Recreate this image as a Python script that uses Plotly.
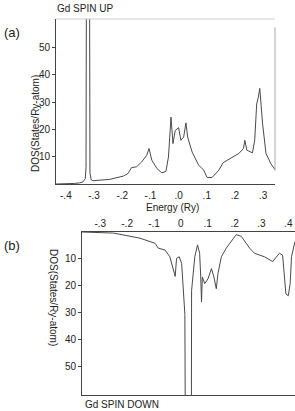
import plotly.graph_objects as go

# Spin-up DOS (top panel)
up_energy = [-0.435, -0.399, -0.37, -0.352, -0.339, -0.331, -0.3285, -0.327, -0.316, -0.3145,
             -0.31, -0.304, -0.274, -0.244, -0.196, -0.179, -0.167, -0.149, -0.131, -0.113,
             -0.105, -0.095, -0.077, -0.06, -0.045, -0.036, -0.027, -0.02, -0.012, 0.0,
             0.008, 0.018, 0.026, 0.032, 0.048, 0.071, 0.089, 0.101, 0.119, 0.143,
             0.158, 0.185, 0.214, 0.23, 0.235, 0.242, 0.262, 0.27, 0.277, 0.283,
             0.288, 0.298, 0.31, 0.327, 0.339, 0.342]
up_dos = [0.0, 0.0, 0.2, 0.4, 0.8, 2.0, 6.0, 80.0, 80.0, 4.0,
          1.5, 1.2, 1.4, 1.7, 2.9, 3.9, 6.0, 6.3, 8.1, 10.5,
          13.0, 8.7, 5.7, 4.1, 4.6, 9.9, 24.5, 14.8, 19.6, 20.6,
          16.0, 17.2, 22.4, 17.2, 11.7, 6.9, 5.1, 2.4, 2.4, 5.1,
          7.8, 9.3, 11.2, 13.0, 16.0, 12.4, 11.4, 16.0, 29.3, 31.8,
          35.0, 22.0, 11.2, 7.5, 5.5, 5.2]

# Spin-down DOS (bottom panel, plotted downward)
dn_energy = [-0.368, -0.30, -0.25, -0.152, -0.096, -0.084, -0.059, -0.041, -0.026, -0.021,
             -0.016, -0.006, 0.003, 0.009, 0.015, 0.017, 0.039, 0.040, 0.046, 0.052,
             0.062, 0.070, 0.074, 0.077, 0.080, 0.089, 0.101, 0.114, 0.123, 0.132,
             0.138, 0.151, 0.169, 0.188, 0.206, 0.225, 0.237, 0.256, 0.274, 0.311,
             0.342, 0.367, 0.379, 0.385, 0.391, 0.400, 0.407, 0.412, 0.420, 0.425]
dn_dos = [0.0, 0.2, 0.4, 2.3, 4.2, 6.0, 6.7, 9.2, 14.2, 16.5,
          9.8, 9.2, 11.7, 21.8, 30.6, 80.0, 80.0, 21.8, 14.0, 9.2,
          4.8, 7.9, 16.7, 26.0, 16.7, 19.2, 17.4, 13.6, 16.7, 21.1,
          15.5, 9.2, 6.0, 3.5, 1.0, 1.6, 3.5, 6.0, 7.9, 9.2,
          11.0, 7.9, 8.6, 16.7, 23.0, 23.7, 19.2, 9.2, 4.8, 3.5]

up_xticks = [-0.4, -0.3, -0.2, -0.1, 0.0, 0.1, 0.2, 0.3]
up_xtext = ["-.4", "-.3", "-.2", "-.1", ".0", ".1", ".2", ".3"]
dn_xticks = [-0.3, -0.2, -0.1, 0.0, 0.1, 0.2, 0.3, 0.4]
dn_xtext = ["-.3", "-.2", "-.1", "0", ".1", ".2", ".3", ".4"]
y_ticks = [10, 20, 30, 40, 50]

W, H = 295, 411
def px(v):
    return v / W
def py(v):
    return 1 - v / H

FONT = "Liberation Sans"
LC = "#4a4a4a"

fig = go.Figure()
fig.add_trace(go.Scatter(x=up_energy, y=up_dos, mode="lines",
                         line=dict(color=LC, width=1), xaxis="x", yaxis="y",
                         showlegend=False))
fig.add_trace(go.Scatter(x=dn_energy, y=dn_dos, mode="lines",
                         line=dict(color=LC, width=1), xaxis="x2", yaxis="y2",
                         showlegend=False))

axfont = dict(family=FONT, size=10, color="#222")
fig.update_layout(
    width=W, height=H, margin=dict(l=0, r=0, t=0, b=0),
    paper_bgcolor="white", plot_bgcolor="white",
    xaxis=dict(domain=[px(56), px(275)], range=[-0.435, 0.342], anchor="y",
               tickvals=up_xticks, ticktext=up_xtext, ticks="", tickfont=axfont,
               showgrid=False, zeroline=False, showline=True, linecolor="#444",
               linewidth=1, ticklabelstandoff=2),
    yaxis=dict(domain=[py(184), py(19)], range=[0, 60.4], anchor="x",
               tickvals=y_ticks, ticks="outside", ticklen=3, tickcolor="#444",
               tickfont=axfont, showgrid=False, zeroline=False, showline=True,
               linecolor="#444", linewidth=1),
    xaxis2=dict(domain=[px(82), px(295)], range=[-0.368, 0.425], anchor="y2",
                side="top", tickvals=dn_xticks, ticktext=dn_xtext, ticks="",
                tickfont=axfont, showgrid=False, zeroline=False, showline=True,
                mirror=True, linecolor="#444", linewidth=1),
    yaxis2=dict(domain=[py(395), py(232)], range=[60.6, 0], anchor="x2",
                tickvals=y_ticks, ticks="outside", ticklen=3, tickcolor="#444",
                tickfont=axfont, showgrid=False, zeroline=False, showline=True,
                linecolor="#444", linewidth=1),
)

# faint right and top frame lines of top panel
fig.add_shape(type="line", xref="x domain", yref="y domain", x0=1, x1=1,
              y0=0.08, y1=0.95, line=dict(color="#aaa", width=1))
fig.add_shape(type="line", xref="x domain", yref="y domain", x0=0.0, x1=1,
              y0=1, y1=1, line=dict(color="#ccc", width=1))

ann = [
    dict(x=px(2), y=py(32), text="(a)", size=13, angle=0, xa="left"),
    dict(x=px(2), y=py(245), text="(b)", size=13, angle=0, xa="left"),
    dict(x=px(55), y=py(9), text="Gd SPIN UP", size=10, angle=0, xa="left"),
    dict(x=px(83), y=py(404), text="Gd SPIN DOWN", size=10, angle=0, xa="left"),
    dict(x=px(172), y=py(207), text="Energy (Ry)", size=10, angle=0, xa="center"),
    dict(x=px(35), y=py(124), text="DOS(States/Ry-atom)", size=10, angle=-90, xa="center"),
    dict(x=px(54), y=py(297), text="DOS(States/Ry-atom)", size=10, angle=90, xa="center"),
]
for a in ann:
    fig.add_annotation(x=a["x"], y=a["y"], xref="paper", yref="paper",
                       text=a["text"], showarrow=False, textangle=a["angle"],
                       xanchor=a["xa"], yanchor="middle",
                       font=dict(family=FONT, size=a["size"], color="#222"))

fig.write_html("out.html")
